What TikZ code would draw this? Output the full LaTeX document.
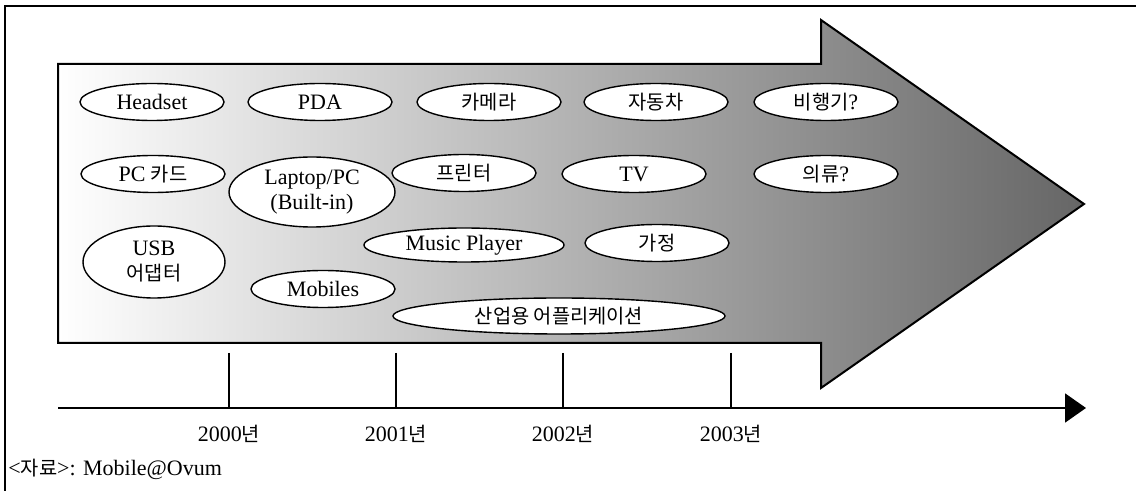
\documentclass[tikz,border=0pt]{standalone}
\usepackage{fontspec}
\setmainfont{Liberation Serif}
\newfontfamily\kr{Noto Sans CJK KR}[Scale=0.9]
\usetikzlibrary{shapes.geometric,arrows.meta}

\begin{document}
\begin{tikzpicture}[x=0.5pt, y=-0.5pt, font=\fontsize{11}{12.5}\selectfont,
    item/.style={ellipse, draw, fill=white, line width=0.7pt, inner sep=0pt,
                 minimum width=72pt, minimum height=18.5pt}]

   \useasboundingbox (0,0) rectangle (1136,491);
   \draw[line width=0.6pt] (5,491) -- (5,6) -- (1136,6);

   \shadedraw[left color=white, right color=black!60, draw=black, line width=1pt]
      (58,64) -- (821,64) -- (821,20) -- (1084,204) -- (821,388) -- (821,343) -- (58,343) -- cycle;

   \foreach \n/\x/\y/\t in {head/152/102/Headset, pda/320/102/PDA, cam/489/102/{\kr 카메라},
                            car/656/102/{\kr 자동차}, plane/826/102/{\kr 비행기}?,
                            pccard/153/174/PC {\kr 카드}, print/464/173/{\kr 프린터},
                            tv/634/174/TV, cloth/826/174/{\kr 의류}?,
                            home/657/243/{\kr 가정}, mob/323/289/Mobiles}
     \node [item] (\n) at (\x,\y) {\t};

   \node [item, minimum width=83pt, minimum height=35pt, align=center]
      (laptop) at (312,192) {Laptop/PC\\(Built-in)};
   \node [item, minimum width=71pt, minimum height=36pt, align=center]
      (usb) at (154,262) {USB\\{\kr 어댑터}};
   \node [item, minimum width=100pt, minimum height=17pt] (music) at (464,245) {Music Player};
   \node [item, minimum width=166pt, minimum height=18pt] (indus) at (559,316) {{\kr 산업용 어플리케이션}};

   \coordinate (axisL) at (58,408);
   \coordinate (axisR) at (1086,408);
   \draw [line width=1pt, -{Triangle[length=10.5pt, width=14.5pt]}] (axisL) -- (axisR);

   \foreach \x/\yr in {229/2000, 396/2001, 563/2002, 731/2003} {
     \coordinate (t\yr) at (\x,353);
     \draw [line width=0.6pt] (t\yr) -- (t\yr |- axisL);
     \node (l\yr) at (\x,434) {\yr{\kr 년}};
   }

   \node [anchor=west, inner sep=0pt] (src) at (8,469) {<{\kr 자료}>: Mobile@Ovum};

\end{tikzpicture}
\end{document}
